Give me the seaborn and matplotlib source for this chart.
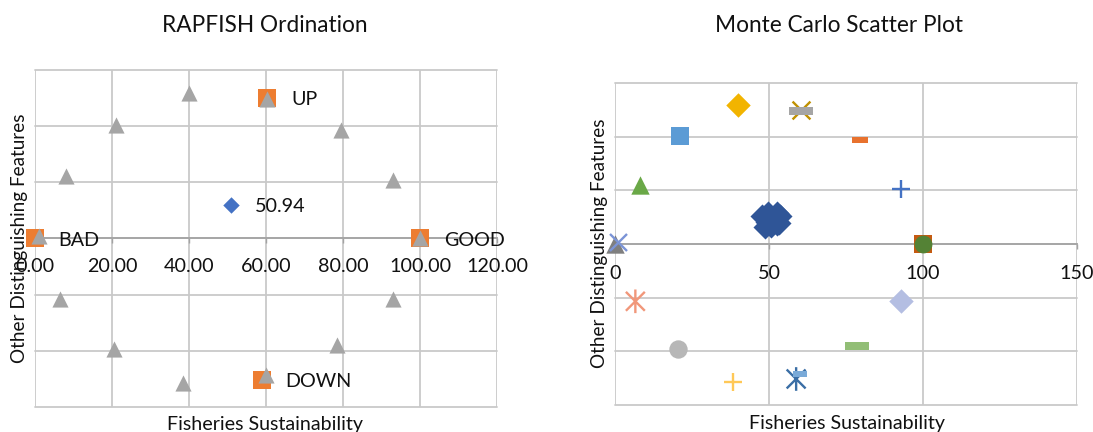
import matplotlib
matplotlib.use("Agg")
import matplotlib.pyplot as plt
import seaborn as sns
import pandas as pd
from matplotlib.path import Path

sns.set_theme(style="white")
plt.rcParams["font.family"] = ["Lato", "DejaVu Sans"]

# ---- data ----
# reference anchor points (the grey triangles)
anchor_x = [40.0, 60.3, 21.0, 79.5, 8.0, 92.9, 1.0, 100.0, 6.6, 92.8, 20.6, 78.4, 38.3, 59.9]
anchor_y = [51.9, 49.6, 40.4, 38.8, 22.1, 20.7, 0.8, 0.0, -21.4, -21.4, -39.2, -38.1, -51.6, -48.5]

ref_names = ["UP", "BAD", "GOOD", "DOWN"]
ref_x = [60.3, 0.0, 100.0, 58.8]
ref_y = [50.0, 0.0, 0.0, -50.4]

score_x = [50.94]
score_y = [11.9]
score_label = "50.94"

# monte carlo runs
mc_x = [47.6, 53.6, 49.7, 52.5, 48.6, 50.5, 52.6, 53.2, 50.0, 51.5, 49.2, 51.0]
mc_y = [10.5, 10.5, 11.7, 11.7, 6.5, 6.6, 7.4, 8.0, 9.0, 10.0, 8.2, 8.2]

left_xticks = [0, 20, 40, 60, 80, 100, 120]
right_xticks = [0, 50, 100, 150]
y_grid = [-60, -40, -20, 0, 20, 40, 60]

# ---- styles ----
GRID = "#C9C9C9"
AXIS = "#A3A3A3"
TXT = "#111111"

dash = [(-1, -0.32), (1, -0.32), (1, 0.32), (-1, 0.32)]
star = Path([(-1, -1), (1, 1), (-1, 1), (1, -1), (0, -1.25), (0, 1.25)],
            [Path.MOVETO, Path.LINETO] * 3)

# marker / colour / size / kind per anchor on the monte carlo chart
anchor_style = [
    ("D", "#F2B400", 155, "fill"),
    (dash, "#A5A5A5", 310, "fill"),
    ("s", "#5B9BD5", 165, "fill"),
    ([(-1, -0.43), (1, -0.43), (1, 0.43), (-1, 0.43)], "#E8722E", 120, "fill"),
    ("^", "#6AA847", 175, "fill"),
    ("+", "#4472C4", 160, "line"),
    ("x", "#7B94D6", 150, "line"),
    ("o", "#548235", 165, "fill"),
    (star, "#F1977A", 290, "path"),
    ("D", "#B4BEE2", 155, "fill"),
    ("o", "#B7B7B7", 175, "fill"),
    (dash, "#92BE76", 320, "fill"),
    ("+", "#FFC857", 160, "line"),
    ([(-1, -0.45), (1, -0.45), (1, 0.45), (-1, 0.45)], "#7AAAD8", 110, "fill"),
]
ref_style = [
    ("x", "#BF9000", 165, "line"),
    ("^", "#7F7F7F", 175, "fill"),
    ("s", "#C55A11", 165, "fill"),
    (star, "#3A6EA5", 290, "path"),
]

fig = plt.figure(figsize=(10.93, 4.32), dpi=100)
ax1 = fig.add_axes([0.0320, 0.0579, 0.4230, 0.7801])
ax2 = fig.add_axes([0.5627, 0.0632, 0.4227, 0.7440])


def frame(ax, xticks, labels, pad):
    ax.set_xlim(xticks[0], xticks[-1])
    ax.set_ylim(y_grid[0], y_grid[-1])
    ax.set_xticks(xticks)
    ax.set_xticklabels(labels)
    ax.set_yticks(y_grid)
    ax.grid(True, color=GRID, linewidth=1.3)
    for ln in ax.get_xgridlines() + ax.get_ygridlines():
        ln.set_clip_on(False)
    ax.set_axisbelow(True)
    for side in ["top", "left", "right"]:
        ax.spines[side].set_visible(False)
    ax.spines["bottom"].set_position(("data", 0))
    ax.spines["bottom"].set_color(AXIS)
    ax.spines["bottom"].set_linewidth(1.3)
    ax.tick_params(axis="x", direction="out", length=3.6, width=1, color=AXIS,
                   pad=pad, labelsize=14.2, labelcolor=TXT, bottom=True)
    ax.tick_params(axis="y", left=False, labelleft=False)
    ax.set_xlabel("")
    ax.set_ylabel("")
    for coll in ax.collections:
        coll.set_clip_on(False)


def draw_point(ax, style, x, y, z):
    m, c, s, kind = style
    if kind == "fill":
        sns.scatterplot(x=[x], y=[y], marker=m, color=c, s=s, linewidth=0,
                        ax=ax, zorder=z)
    elif kind == "line":
        ax.scatter([x], [y], marker=m, s=s, color=c, linewidths=1.7, zorder=z)
    else:
        ax.scatter([x], [y], marker=m, s=s, facecolors="none", edgecolors=c,
                   linewidths=1.7, zorder=z)


# ---- RAPFISH ordination ----
sns.scatterplot(x=score_x, y=score_y, marker="D", color="#4472C4", s=70,
                linewidth=0, ax=ax1, zorder=3)
sns.scatterplot(x=ref_x, y=ref_y, marker="s", color="#ED7D31", s=160,
                linewidth=0, ax=ax1, zorder=3)
sns.scatterplot(x=anchor_x, y=anchor_y, marker="^", color="#A5A5A5", s=135,
                linewidth=0, ax=ax1, zorder=4)
for name, x, y in zip(ref_names, ref_x, ref_y):
    ax1.annotate(name, (x, y), xytext=(17, -1.3), textcoords="offset points",
                 va="center", ha="left", fontsize=14.2, color=TXT, zorder=5)
ax1.annotate(score_label, (score_x[0], score_y[0]), xytext=(17, -1.3),
             textcoords="offset points", va="center", ha="left",
             fontsize=14.2, color=TXT, zorder=5)
frame(ax1, left_xticks, [f"{v:.2f}" for v in left_xticks], 10.5)

# ---- Monte Carlo scatter ----
for st, x, y in zip(ref_style, ref_x, ref_y):
    draw_point(ax2, st, x, y, 3)
sns.scatterplot(x=mc_x, y=mc_y, marker="D", color="#2F5597", s=150,
                linewidth=0, ax=ax2, zorder=3)
for st, x, y in zip(anchor_style, anchor_x, anchor_y):
    draw_point(ax2, st, x, y, 4)
frame(ax2, right_xticks, [str(v) for v in right_xticks], 11.5)

# ---- titles and axis titles ----
fig.text(0.2425, 0.9255, "RAPFISH Ordination", ha="center", va="baseline",
         fontsize=16.3, color=TXT)
fig.text(0.7676, 0.9255, "Monte Carlo Scatter Plot", ha="center", va="baseline",
         fontsize=16.3, color=TXT)
fig.text(0.2429, 0.0046, "Fisheries Sustainability", ha="center", va="baseline",
         fontsize=14.1, color=TXT)
fig.text(0.7746, 0.0074, "Fisheries Sustainability", ha="center", va="baseline",
         fontsize=14.1, color=TXT)
fig.text(0.0232, 0.4479, "Other Distinguishing Features", rotation=90,
         rotation_mode="anchor", ha="center", va="baseline", fontsize=13.6,
         color=TXT)
fig.text(0.5535, 0.4363, "Other Distinguishing Features", rotation=90,
         rotation_mode="anchor", ha="center", va="baseline", fontsize=13.6,
         color=TXT)

fig.savefig("out.png", dpi=100)
